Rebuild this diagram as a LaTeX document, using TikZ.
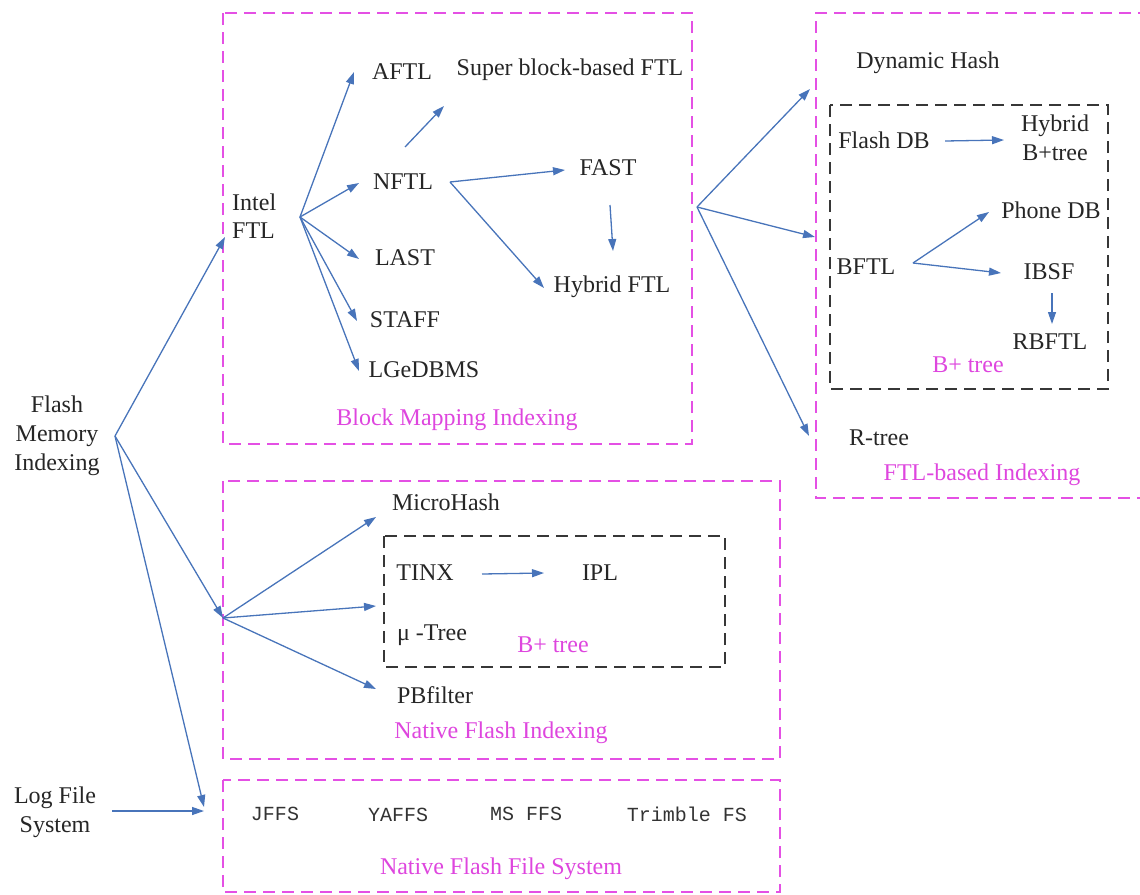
\documentclass[tikz,border=0pt]{standalone}
\usepackage{fontspec}
\setmainfont{Liberation Serif}
\setmonofont{Liberation Mono}
\usetikzlibrary{arrows.meta}
\definecolor{arrowblue}{RGB}{72,116,186}
\definecolor{boxmag}{RGB}{228,80,228}
\definecolor{txtmag}{RGB}{222,70,222}
\definecolor{boxgray}{RGB}{55,55,55}
\begin{document}
\begin{tikzpicture}[x=1pt,y=-1pt,
  lbl/.style={font=\fontsize{24}{29}\selectfont, text=black!85, inner sep=0pt, align=center},
  maglbl/.style={font=\fontsize{24}{29}\selectfont, text=txtmag, inner sep=0pt},
  monolbl/.style={font=\ttfamily\fontsize{20}{24}\selectfont, text=black!80, inner sep=0pt},
  conn/.style={draw=arrowblue, line width=1.3pt, -{Triangle[length=12pt,width=8pt]}},
  magbox/.style={draw=boxmag, line width=2pt, dash pattern=on 12pt off 7pt},
  graybox/.style={draw=boxgray, line width=2pt, dash pattern=on 12pt off 7pt}]
\useasboundingbox (0,0) rectangle (1140,894);

% boxes
\draw[magbox] (223,13) rectangle (692,444);
\draw[magbox] (1150,13) -- (816,13) -- (816,498) -- (1150,498);
\draw[graybox] (830,105) rectangle (1108,389);
\draw[magbox] (223,481) rectangle (780,759);
\draw[graybox] (384,536) rectangle (725,667);
\draw[magbox] (223,780) rectangle (780,892);

% left texts
\node[lbl] (fmi) at (57,436) {Flash\\Memory\\Indexing};
\node[lbl] (lfs) at (55,812) {Log File\\System};

% block mapping
\node[lbl, align=left, anchor=west, font=\fontsize{24}{28}\selectfont] (intel) at (232,216) {Intel\\FTL};
\node[lbl] (aftl) at (402,72) {AFTL};
\node[lbl] (super) at (570,70) {Super block-based FTL};
\node[lbl] (nftl) at (403,182) {NFTL};
\node[lbl] (last) at (405,258) {LAST};
\node[lbl] (staff) at (405,320) {STAFF};
\node[lbl] (lge) at (424,370) {LGeDBMS};
\node[lbl] (fast) at (608,168) {FAST};
\node[lbl] (hftl) at (612,287) {Hybrid FTL};
\node[maglbl] (bmi) at (457,420) {Block Mapping Indexing};

% FTL-based
\node[lbl] (dyn) at (928,63) {Dynamic Hash};
\node[lbl] (fdb) at (884,140) {Flash DB};
\node[lbl] (hbt) at (1055,138) {Hybrid\\B+tree};
\node[lbl] (pdb) at (1051,210) {Phone DB};
\node[lbl] (bftl) at (866,267) {BFTL};
\node[lbl] (ibsf) at (1049,272) {IBSF};
\node[lbl] (rbftl) at (1050,342) {RBFTL};
\node[maglbl] (bt1) at (968,365) {B+ tree};
\node[lbl] (rtree) at (879,438) {R-tree};
\node[maglbl] (ftlb) at (982,475) {FTL-based Indexing};

% native flash indexing
\node[lbl] (mh) at (446,502) {MicroHash};
\node[lbl] (tinx) at (425,573) {TINX};
\node[lbl] (ipl) at (600,573) {IPL};
\node[lbl] (mut) at (432,635) {μ -Tree};
\node[maglbl] (bt2) at (553,645) {B+ tree};
\node[lbl] (pbf) at (435,695) {PBfilter};
\node[maglbl] (nfi) at (501,733) {Native Flash Indexing};

% native flash file system
\node[monolbl] (jffs) at (275,814) {JFFS};
\node[monolbl] (yaffs) at (398,815) {YAFFS};
\node[monolbl] (msffs) at (526,814) {MS FFS};
\node[monolbl] (trim) at (687,814) {Trimble FS};
\node[maglbl] (nffs) at (501,869) {Native Flash File System};

% hub and tip coordinates
\coordinate (hubF) at (115,436);
\coordinate (tIntel) at (225,237);
\coordinate (hubN) at (223,618);
\coordinate (tLog) at (204,807);
\coordinate (lfsR) at (112,811);
\coordinate (tLogB) at (204,811);

\coordinate (hubI) at (300,217);
\coordinate (tA) at (354,72);
\coordinate (tN) at (359,183);
\coordinate (tL) at (359,259);
\coordinate (tS) at (357,321);
\coordinate (tG) at (359,371);

\coordinate (sN) at (405,147);
\coordinate (tSup) at (444,106);
\coordinate (hubNF) at (450,182);
\coordinate (tFast) at (565,170);
\coordinate (tHF) at (544,288);
\coordinate (sFast) at (610,205);
\coordinate (tFH) at (613,251);

\coordinate (hubR) at (697,207);
\coordinate (tDyn) at (810,89);
\coordinate (tBox) at (815,237);
\coordinate (tRt) at (809,436);

\coordinate (sFdb) at (945,141);
\coordinate (tHbt) at (1004,140);
\coordinate (hubB) at (913,263);
\coordinate (tPdb) at (989,212);
\coordinate (tIbsf) at (1001,273);
\coordinate (sIbsf) at (1052,293);
\coordinate (tRb) at (1052,324);

\coordinate (tMh) at (376,517);
\coordinate (tIn) at (376,606);
\coordinate (tPb) at (376,689);
\coordinate (sTinx) at (482,574);
\coordinate (tIpl) at (544,573);

% connectors
\draw[conn] (hubF) -- (tIntel);
\draw[conn] (hubF) -- (hubN);
\draw[conn] (hubF) -- (tLog);
\draw[conn] (lfsR) -- (tLogB);

\draw[conn] (hubI) -- (tA);
\draw[conn] (hubI) -- (tN);
\draw[conn] (hubI) -- (tL);
\draw[conn] (hubI) -- (tS);
\draw[conn] (hubI) -- (tG);

\draw[conn] (sN) -- (tSup);
\draw[conn] (hubNF) -- (tFast);
\draw[conn] (hubNF) -- (tHF);
\draw[conn] (sFast) -- (tFH);

\draw[conn] (hubR) -- (tDyn);
\draw[conn] (hubR) -- (tBox);
\draw[conn] (hubR) -- (tRt);

\draw[conn] (sFdb) -- (tHbt);
\draw[conn] (hubB) -- (tPdb);
\draw[conn] (hubB) -- (tIbsf);
\draw[conn] (sIbsf) -- (tRb);

\draw[conn] (hubN) -- (tMh);
\draw[conn] (hubN) -- (tIn);
\draw[conn] (hubN) -- (tPb);
\draw[conn] (sTinx) -- (tIpl);
\end{tikzpicture}
\end{document}
